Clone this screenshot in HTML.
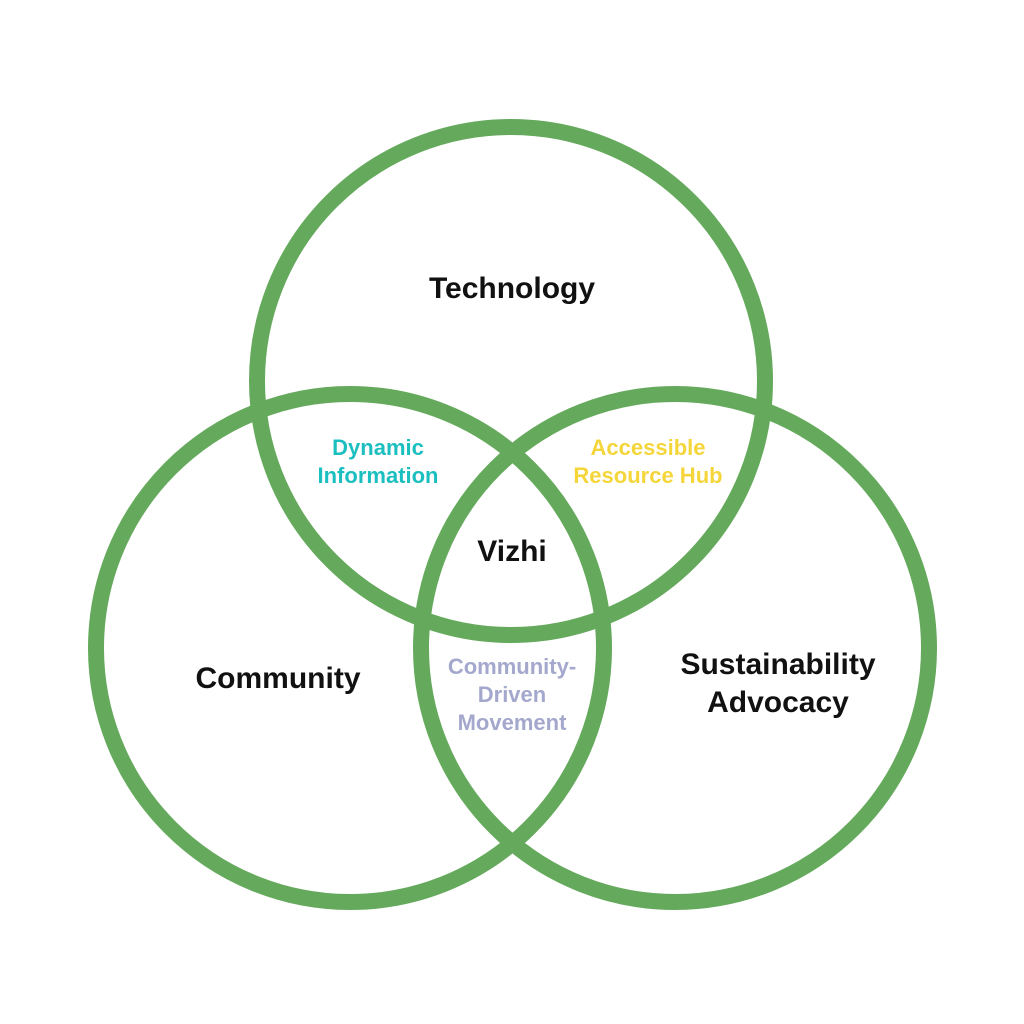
<!DOCTYPE html>
<html><head><style>html,body{margin:0;padding:0;background:#fff}</style></head>
<body>
<svg width="1024" height="1024" viewBox="0 0 1024 1024" xmlns="http://www.w3.org/2000/svg" style="display:block">
<rect width="1024" height="1024" fill="#fff"/>
<g fill="none" stroke="#65aa5c" stroke-width="16">
<circle cx="511" cy="381" r="254"/>
<circle cx="350" cy="648" r="254"/>
<circle cx="675" cy="648" r="254"/>
</g>
<g font-family="Liberation Sans, sans-serif" font-weight="bold" text-anchor="middle">
<text x="512" y="298" font-size="30" fill="#111">Technology</text>
<text x="278" y="688" font-size="30" fill="#111">Community</text>
<text x="778" y="674" font-size="30" fill="#111">Sustainability</text>
<text x="778" y="712" font-size="30" fill="#111">Advocacy</text>
<text x="512" y="561" font-size="30" fill="#111">Vizhi</text>
<text x="378" y="455" font-size="22" fill="#1cbfc0">Dynamic</text>
<text x="378" y="483" font-size="22" fill="#1cbfc0">Information</text>
<text x="648" y="455" font-size="22" fill="#f5d63a">Accessible</text>
<text x="648" y="483" font-size="22" fill="#f5d63a">Resource Hub</text>
<text x="512" y="674" font-size="22" fill="#a3a8cc">Community-</text>
<text x="512" y="702" font-size="22" fill="#a3a8cc">Driven</text>
<text x="512" y="730" font-size="22" fill="#a3a8cc">Movement</text>
</g>
</svg>
</body></html>
